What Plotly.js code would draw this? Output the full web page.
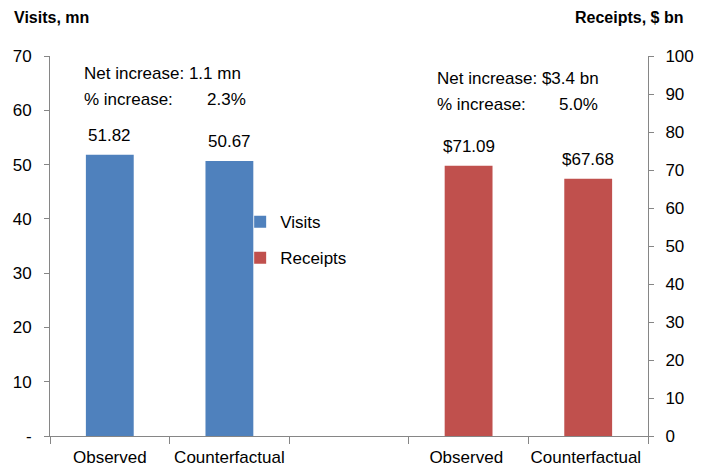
<!DOCTYPE html>
<html>
<head>
<meta charset="utf-8">
<script src="https://cdn.plot.ly/plotly-3.0.1.min.js"></script>
<style>html,body{margin:0;padding:0;background:#fff;}#chart{width:701px;height:469px;}</style>
</head>
<body>
<div id="chart"></div>
<script>
const categories = ["Observed", "Counterfactual", " ", "Observed ", "Counterfactual "];
const visitsCats = ["Observed", "Counterfactual"];
const visitsValues = [51.82, 50.67];
const visitsLabels = ["51.82", "50.67"];
const receiptsCats = ["Observed ", "Counterfactual "];
const receiptsValues = [71.09, 67.68];
const receiptsLabels = ["$71.09", "$67.68"];
const leftTickVals = [0, 10, 20, 30, 40, 50, 60, 70];
const leftTickText = ["-", "10", "20", "30", "40", "50", "60", "70"];
const rightTickVals = [0, 10, 20, 30, 40, 50, 60, 70, 80, 90, 100];

const FONT = "Liberation Sans, Arial, sans-serif";
const FS = 17;
const traces = [
  {
    type: "bar", name: "Visits", x: visitsCats, y: visitsValues,
    marker: {color: "#4F81BD"}, width: 0.4, yaxis: "y", legendgroup: "a"
  },
  {
    type: "bar", name: "Receipts", x: receiptsCats, y: receiptsValues,
    marker: {color: "#C0504D"}, width: 0.4, yaxis: "y2", legendgroup: "b"
  }
];

const barLabels = [];
visitsCats.forEach((c, i) => barLabels.push({
  xref: "x", yref: "y", x: c, y: visitsValues[i], text: visitsLabels[i],
  yanchor: "bottom", yshift: 8, showarrow: false, font: {size: FS}
}));
receiptsCats.forEach((c, i) => barLabels.push({
  xref: "x", yref: "y2", x: c, y: receiptsValues[i], text: receiptsLabels[i],
  yanchor: "bottom", yshift: 8, showarrow: false, font: {size: FS}
}));

const layout = {
  width: 701, height: 469,
  margin: {l: 50, r: 53, t: 56, b: 33, pad: 0},
  paper_bgcolor: "#fff", plot_bgcolor: "#fff",
  font: {family: FONT, size: FS, color: "#000"},
  barmode: "overlay",
  showlegend: true,
  legend: {x: 0.318, y: 0.61, xanchor: "left", yanchor: "top", bgcolor: "rgba(0,0,0,0)",
           font: {size: FS}, tracegroupgap: 11, traceorder: "grouped", itemwidth: 30},
  xaxis: {
    type: "category", categoryorder: "array", categoryarray: categories,
    range: [-0.5, 4.5], tickson: "boundaries", ticks: "outside", ticklen: 7,
    tickcolor: "#868686", showline: true, linecolor: "#868686", linewidth: 1,
    showgrid: false, zeroline: false, tickfont: {size: FS}, fixedrange: true,
    tickangle: 0, automargin: false, ticklabelstandoff: 6
  },
  yaxis: {
    range: [0, 70], tickvals: leftTickVals, ticktext: leftTickText,
    ticks: "outside", ticklen: 5, tickcolor: "#868686", showline: true,
    linecolor: "#868686", showgrid: false, zeroline: false,
    tickfont: {size: FS}, ticklabelstandoff: 9
  },
  yaxis2: {
    range: [0, 100], tickvals: rightTickVals, overlaying: "y", side: "right",
    ticks: "outside", ticklen: 5, tickcolor: "#868686", showline: true,
    linecolor: "#868686", showgrid: false, zeroline: false,
    tickfont: {size: FS}, ticklabelstandoff: 8
  },
  annotations: barLabels.concat([
    {xref: "paper", yref: "paper", x: -0.063, y: 1.1, xanchor: "left", yanchor: "middle",
     text: "<b>Visits, mn</b>", showarrow: false, font: {size: 16}},
    {xref: "paper", yref: "paper", x: 1.062, y: 1.1, xanchor: "right", yanchor: "middle",
     text: "<b>Receipts, $ bn</b>", showarrow: false, font: {size: 16}},
    {xref: "paper", yref: "paper", x: 0.053, y: 0.955, xanchor: "left", yanchor: "middle",
     text: "Net increase: 1.1 mn", showarrow: false, font: {size: FS}},
    {xref: "paper", yref: "paper", x: 0.053, y: 0.885, xanchor: "left", yanchor: "middle",
     text: "% increase:", showarrow: false, font: {size: FS}},
    {xref: "paper", yref: "paper", x: 0.26, y: 0.885, xanchor: "left", yanchor: "middle",
     text: "2.3%", showarrow: false, font: {size: FS}},
    {xref: "paper", yref: "paper", x: 0.643, y: 0.94, xanchor: "left", yanchor: "middle",
     text: "Net increase: $3.4 bn", showarrow: false, font: {size: FS}},
    {xref: "paper", yref: "paper", x: 0.643, y: 0.872, xanchor: "left", yanchor: "middle",
     text: "% increase:", showarrow: false, font: {size: FS}},
    {xref: "paper", yref: "paper", x: 0.848, y: 0.872, xanchor: "left", yanchor: "middle",
     text: "5.0%", showarrow: false, font: {size: FS}}
  ])
};

Plotly.newPlot("chart", traces, layout, {displayModeBar: false, staticPlot: true});
</script>
</body>
</html>
